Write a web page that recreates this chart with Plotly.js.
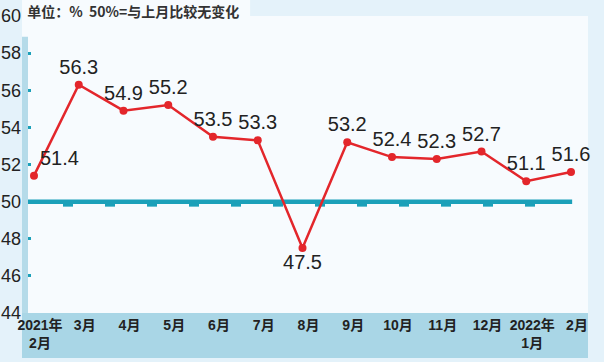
<!DOCTYPE html>
<html>
<head>
<meta charset="utf-8">
<script src="https://cdn.plot.ly/plotly-3.0.1.min.js"></script>
<style>
html,body{margin:0;padding:0;background:#e4f2fa;}
#chart{width:604px;height:362px;}
</style>
</head>
<body>
<div id="chart"></div>
<script>
// ---- data ----
const months = ["2021年<br>2月","3月","4月","5月","6月","7月","8月","9月","10月","11月","12月","2022年<br>1月","2月"];
const values = [51.4, 56.3, 54.9, 55.2, 53.5, 53.3, 47.5, 53.2, 52.4, 52.3, 52.7, 51.1, 51.6];
const labelPos = ["top right","top center","top center","top center","top center","top center","bottom center","top center","top center","top center","top center","top center","top center"];
const yTicks = [44, 46, 48, 50, 52, 54, 56, 58, 60];
const baseline = 50;
const titleText = "单位：%  50%=与上月比较无变化";

const idx = months.map((m, i) => i);
const narrow = "Liberation Sans, Arial, sans-serif";
const cjk = "Liberation Sans, Noto Sans CJK SC, sans-serif";

const trace = {
  x: idx,
  y: values,
  type: "scatter",
  mode: "lines+markers+text",
  line: {color: "#e3262b", width: 2.5},
  marker: {color: "#e3262b", size: 8},
  text: values.map(v => v.toFixed(1)),
  textposition: labelPos,
  textfont: {family: narrow, size: 20, color: "#222"},
  cliponaxis: false,
  hoverinfo: "skip"
};

const shapes = [];
// x-axis band
shapes.push({type: "rect", xref: "paper", yref: "paper", x0: 0, x1: 1, y0: -0.1515, y1: 0,
  fillcolor: "#a9d6e6", line: {width: 0}, layer: "below"});
// title box
shapes.push({type: "rect", xref: "paper", yref: "paper", x0: 0, x1: 0.403, y0: 1, y1: 1.054,
  fillcolor: "#f7fbfe", line: {width: 0}, layer: "below"});
// baseline at 50
shapes.push({type: "line", xref: "paper", yref: "y", x0: 0.0106, x1: 0.972, y0: baseline, y1: baseline,
  line: {color: "#1ba0b9", width: 4.5}, layer: "below"});
// decorative small dashes under the 50 line
for (let k = 0; k < 12; k++) {
  const px = 68 + 42 * k;
  shapes.push({type: "rect", xref: "paper", yref: "y",
    x0: (px - 5 - 22) / 566, x1: (px + 5 - 22) / 566, y0: baseline - 0.27, y1: baseline - 0.1,
    fillcolor: "#1ba0b9", line: {width: 0}, layer: "below"});
}
// y-axis bar
shapes.push({type: "rect", xref: "paper", yref: "paper", x0: 0, x1: 0.0106, y0: 0, y1: 0.93,
  fillcolor: "#b5dbe9", line: {width: 0}, layer: "above"});

const layout = {
  width: 604,
  height: 362,
  margin: {l: 22, r: 16, t: 16, b: 49},
  paper_bgcolor: "#e4f2fa",
  plot_bgcolor: "#f7fbfe",
  showlegend: false,
  title: {
    text: titleText,
    font: {family: "Noto Sans CJK SC, sans-serif", size: 14, color: "#333", weight: 600},
    xref: "container", x: 0.045, xanchor: "left",
    yref: "container", y: 0.967, yanchor: "middle"
  },
  xaxis: {
    range: [-0.268, 12.38],
    tickvals: idx,
    ticktext: months,
    showgrid: false,
    zeroline: false,
    showline: false,
    ticks: "",
    ticklabelshift: 6,
    ticklabelstandoff: 2,
    tickfont: {family: cjk, size: 14, color: "#222", weight: "bold"},
    fixedrange: true
  },
  yaxis: {
    range: [44, 60],
    tickvals: yTicks,
    ticktext: yTicks.map(String),
    showgrid: false,
    zeroline: false,
    showline: false,
    ticks: "inside",
    ticklen: 9,
    tickwidth: 3,
    tickcolor: "#1ba0b9",
    tickfont: {family: narrow, size: 18, color: "#222"},
    fixedrange: true
  },
  shapes: shapes
};

Plotly.newPlot("chart", [trace], layout, {displayModeBar: false, staticPlot: true});
</script>
</body>
</html>
